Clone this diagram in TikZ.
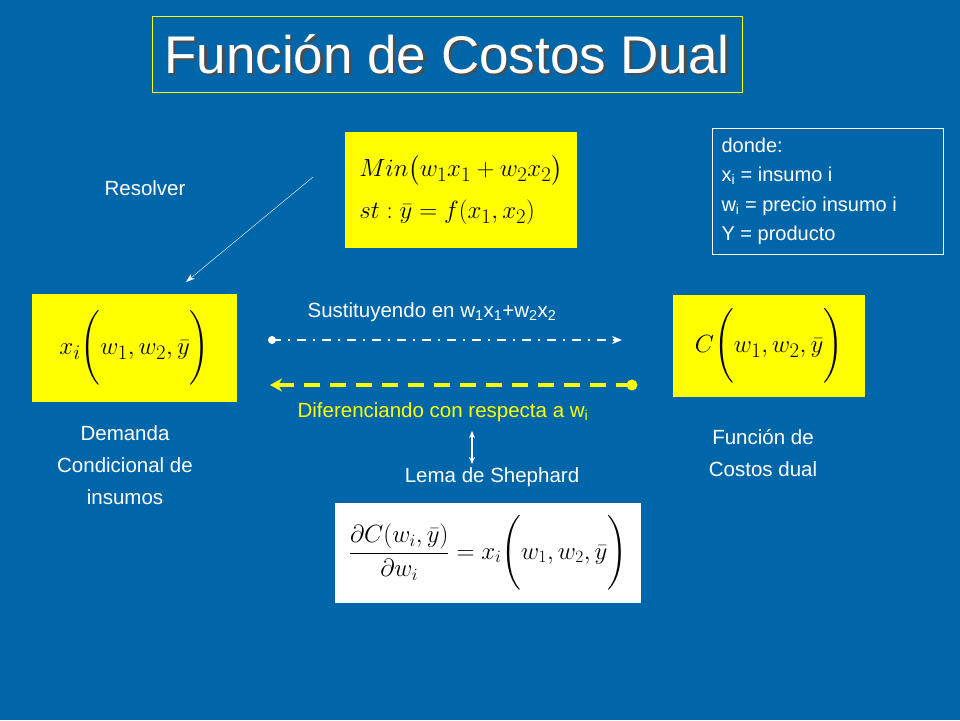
\documentclass[tikz,border=0pt]{standalone}
\usepackage{fontspec}
\setmainfont{Liberation Sans}
\usepackage{amsmath}
\usetikzlibrary{arrows.meta}
\definecolor{bg}{RGB}{0,102,170}
\definecolor{yel}{RGB}{255,255,0}
\begin{document}
\begin{tikzpicture}[x=1pt,y=-1pt,
  txt/.style={text=white,font=\fontsize{20.5}{24}\selectfont,align=center},
  ybox/.style={fill=yel,draw=none,inner sep=0pt},
  mth/.style={font=\fontsize{30}{34}\selectfont}]
\fill[bg] (0,0) rectangle (960,720);
\useasboundingbox (0,0) rectangle (960,720);
% title
\node[draw=yel,line width=0.8pt,minimum width=590pt,minimum height=76pt,inner sep=0pt] (tbox) at (447,54) {};
\node[text=black!70,font=\fontsize{53}{56}\selectfont] (tshadow) at (449.5,56.5) {Función de Costos Dual};
\node[text=white,font=\fontsize{53}{56}\selectfont] (title) at (447,54) {Función de Costos Dual};
% min box
\node[ybox,minimum width=232pt,minimum height=116pt] (minb) at (461,190) {};
\node[mth,align=left] (mint) at (461,190) {$Min\bigl(w_1x_1+w_2x_2\bigr)$\\[8pt]$st:\bar{y}=f(x_1,x_2)$};
% left box
\node[ybox,minimum width=205pt,minimum height=108pt] (lb) at (134.5,348) {};
\node[mth] (lt) at (134.5,348) {$x_i\Biggl(w_1,w_2,\bar{y}\Biggr)$};
% right box
\node[ybox,minimum width=192pt,minimum height=102pt] (rb) at (769,346) {};
\node[mth] (rt) at (769,346) {$C\Biggl(w_1,w_2,\bar{y}\Biggr)$};
% bottom white
\node[fill=white,minimum width=306pt,minimum height=100pt,inner sep=0pt] (wb) at (488,553) {};
\node[font=\fontsize{26}{30}\selectfont] (wt) at (488,553) {$\dfrac{\partial C(w_i,\bar{y})}{\partial w_i}=x_i\Biggl(w_1,w_2,\bar{y}\Biggr)$};
% donde box
\node[draw=white,line width=0.8pt,minimum width=231pt,minimum height=126pt,inner sep=0pt] (dbox) at (827.5,191) {};
\node[text=white,font=\fontsize{20}{29.5}\selectfont,align=left,anchor=north west] (dt) at (718,134) {donde:\\x\textsubscript{i} = insumo i\\w\textsubscript{i} = precio insumo i\\Y = producto};
% texts
\node[txt] (res) at (145,188) {Resolver};
\node[txt] (sus) at (432,312) {Sustituyendo en w\textsubscript{1}x\textsubscript{1}+w\textsubscript{2}x\textsubscript{2}};
\node[txt,text=yel] (dif) at (443,412) {Diferenciando con respecta a w\textsubscript{i}};
\node[txt] (lema) at (492,477) {Lema de Shephard};
\node[txt,font=\fontsize{20.5}{32}\selectfont] (dem) at (125,465) {Demanda\\Condicional de\\insumos};
\node[txt,font=\fontsize{20.5}{32}\selectfont] (fcd) at (763,453) {Función de\\Costos dual};
% connectors
\coordinate (r1) at (313,177); \coordinate (r2) at (186,282);
\draw[white,-{Stealth[length=9pt,width=6pt]}] (r1) -- (r2);
\coordinate (s1) at (272,340); \coordinate (s2) at (622,340);
\fill[white] (s1) circle (4);
\draw[white,line width=1.6pt,dash pattern=on 9pt off 7pt on 2pt off 7pt,-{Stealth[length=10pt,width=8pt]}] (s1) -- (s2);
\coordinate (d1) at (632,385); \coordinate (d2) at (270,385);
\fill[yel] (d1) circle (5.5);
\draw[yel,line width=3.5pt,dash pattern=on 16pt off 10pt,-{Stealth[length=12pt,width=13pt]}] (d1) -- (d2);
\coordinate (v1) at (472,431); \coordinate (v2) at (472,464);
\draw[white,line width=1.4pt,{Stealth[length=7pt,width=6pt]}-{Stealth[length=7pt,width=6pt]}] (v1) -- (v2);
\end{tikzpicture}
\end{document}
